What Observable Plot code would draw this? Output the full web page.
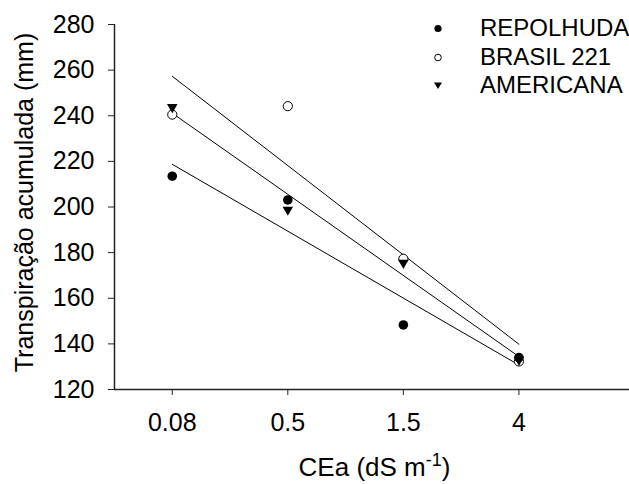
<!DOCTYPE html>
<html>
<head>
<meta charset="utf-8">
<script src="https://cdn.jsdelivr.net/npm/d3@7"></script>
<script src="https://cdn.jsdelivr.net/npm/@observablehq/plot@0.6"></script>
<style>
  html, body { margin: 0; padding: 0; background: white; overflow: hidden; }
  #wrap { position: relative; width: 629px; height: 484px; font-family: "Liberation Sans", Arial, sans-serif; }
  #legend { position: absolute; left: 430px; top: 14px; font-size: 24px; color: #000; }
  #legend .row { position: relative; height: 28.5px; line-height: 28.5px; }
  #legend svg { position: absolute; left: 0; top: 0; }
  #legend span { position: absolute; left: 50px; top: 0; white-space: nowrap; }
  g[aria-label="y-axis tick label"], g[aria-label="x-axis tick label"] { font-size: 25px !important; }
  g[aria-label="y-axis tick label"] text, g[aria-label="x-axis tick label"] text { font-size: 25px !important; }
</style>
</head>
<body>
<div id="wrap"><div id="legend"></div></div>
<script>
// ---- data ----
const series = ["REPOLHUDA", "BRASIL 221", "AMERICANA"];
const ceaLabels = ["0.08", "0.5", "1.5", "4"];
const repolhuda = [213.5, 203.1, 148.3, 134.0];
const brasil221 = [240.5, 244.2, 177.3, 132.3];
const americana = [243.8, 198.8, 175.5, 133.0];
const yTicks = [120, 140, 160, 180, 200, 220, 240, 260, 280];

const valuesBySeries = { "REPOLHUDA": repolhuda, "BRASIL 221": brasil221, "AMERICANA": americana };
const data = series.flatMap(s => ceaLabels.map((c, i) => ({ series: s, pos: i + 1, label: c, value: valuesBySeries[s][i] })));

const W = 629, H = 484;
const mL = 114, mT = 24, mB = 95, mR = 0;
const xDomain = [0.5, 4.957];
const yDomain = [120, 280];
const font = "Liberation Sans, Arial, sans-serif";

const plot = Plot.plot({
  width: W, height: H,
  marginLeft: mL, marginTop: mT, marginBottom: mB, marginRight: mR,
  style: { fontFamily: font, fontSize: "25px", color: "#000", background: "white" },
  x: { domain: xDomain, label: null },
  y: { domain: yDomain, label: null },
  marks: [
    Plot.axisY({ ticks: yTicks, tickSize: 6, tickPadding: 14, stroke: "#222", fontSize: 25, label: null }),
    Plot.axisX({ ticks: [1, 2, 3, 4], tickFormat: d => ceaLabels[d - 1], tickSize: 6, tickPadding: 18, stroke: "#222", fontSize: 25, label: null }),
    Plot.ruleY([yDomain[0]], { stroke: "#222", strokeWidth: 1.5 }),
    Plot.ruleX([xDomain[0]], { stroke: "#222", strokeWidth: 1.5 }),
    Plot.linearRegressionY(data, { x: "pos", y: "value", z: "series", stroke: "black", strokeWidth: 1, ci: 0 }),
    Plot.dot(data.filter(d => d.series === "BRASIL 221"), { x: "pos", y: "value", r: 4.6, fill: "white", stroke: "black", strokeWidth: 1 }),
    Plot.dot(data.filter(d => d.series === "AMERICANA"), { x: "pos", y: "value", r: 3.9, symbol: "triangle", rotate: 180, fill: "black", stroke: "none" }),
    Plot.dot(data.filter(d => d.series === "REPOLHUDA"), { x: "pos", y: "value", r: 4.8, fill: "black", stroke: "none" })
  ]
});

const wrap = document.getElementById("wrap");
wrap.insertBefore(plot, wrap.firstChild);

// axis titles
const svg = d3.select(plot);
const cx = (mL + (W - mR)) / 2;
const xt = svg.append("text")
  .attr("x", cx + 3).attr("y", 476)
  .attr("text-anchor", "middle")
  .attr("font-family", font).attr("font-size", 26).attr("fill", "#000");
xt.append("tspan").text("CEa (dS m");
xt.append("tspan").attr("font-size", 18).attr("dy", -10).text("-1");
xt.append("tspan").attr("dy", 10).text(")");

svg.append("text")
  .attr("transform", `translate(33,${(mT + (H - mB)) / 2 - 4}) rotate(-90)`)
  .attr("text-anchor", "middle")
  .attr("font-family", font).attr("font-size", 25).attr("fill", "#000")
  .text("Transpiração acumulada (mm)");

// legend
const legend = d3.select("#legend");
const symDraw = {
  "REPOLHUDA": g => g.append("circle").attr("cx", 8).attr("cy", 14.5).attr("r", 3.6).attr("fill", "black"),
  "BRASIL 221": g => g.append("circle").attr("cx", 8).attr("cy", 14.5).attr("r", 3.3).attr("fill", "white").attr("stroke", "black").attr("stroke-width", 1),
  "AMERICANA": g => g.append("path").attr("d", "M4,11.5 L12,11.5 L8,18 Z").attr("fill", "black")
};
series.forEach(s => {
  const row = legend.append("div").attr("class", "row");
  const sv = row.append("svg").attr("width", 16).attr("height", 29);
  symDraw[s](sv);
  row.append("span").text(s);
});
</script>
</body>
</html>
